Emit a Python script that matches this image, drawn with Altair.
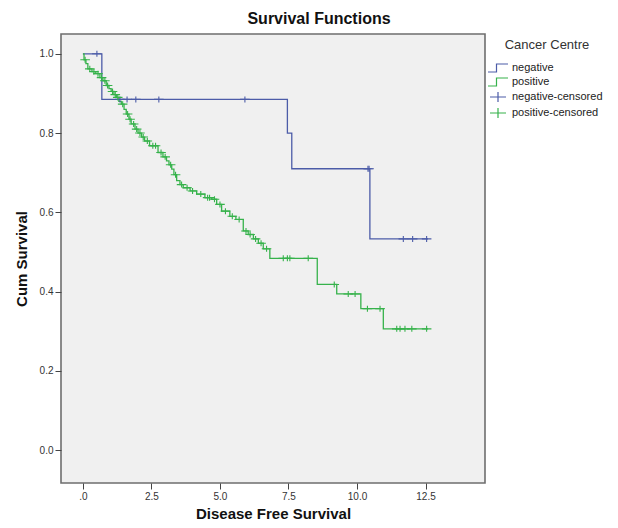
import altair as alt
import pandas as pd

# ---------------- data ----------------
series_domain = ["negative", "positive", "negative-censored", "positive-censored"]

neg_time = [0.0, 0.69, 7.46, 7.62, 10.47, 12.59]
neg_surv = [1.0, 0.885, 0.800, 0.710, 0.533, 0.533]
neg_cens_time = [0.51, 1.35, 1.61, 1.93, 2.77, 5.91, 10.40, 10.44, 11.69, 12.03, 12.54]

pos_time = [0.0, 0.04, 0.11, 0.18, 0.33, 0.47, 0.62, 0.73, 0.85, 0.95, 1.03, 1.13,
            1.22, 1.31, 1.40, 1.50, 1.58, 1.68, 1.76, 1.90, 2.01, 2.14, 2.25, 2.43,
            2.74, 2.92, 3.05, 3.14, 3.24, 3.32, 3.42, 3.54, 3.66, 3.91, 4.15, 4.45,
            4.70, 4.88, 5.06, 5.36, 5.58, 5.85, 6.03, 6.22, 6.40, 6.58, 6.82, 8.55,
            9.26, 10.14, 10.96, 12.59]
pos_surv = [1.0, 0.985, 0.975, 0.962, 0.955, 0.950, 0.940, 0.932, 0.920, 0.912, 0.905, 0.897,
            0.890, 0.880, 0.873, 0.860, 0.848, 0.835, 0.823, 0.810, 0.800, 0.790, 0.780, 0.768,
            0.751, 0.740, 0.730, 0.720, 0.709, 0.695, 0.680, 0.670, 0.662, 0.654, 0.646, 0.637,
            0.633, 0.620, 0.603, 0.590, 0.582, 0.553, 0.544, 0.533, 0.522, 0.508, 0.484, 0.418,
            0.394, 0.357, 0.306, 0.306]
pos_cens_time = [0.08, 0.25, 0.40, 0.55, 0.68, 0.80, 0.90, 1.08, 1.18, 1.27, 1.45, 1.63,
                 1.72, 1.85, 1.96, 2.08, 2.20, 2.35, 2.55, 2.65, 2.85, 3.00, 3.20, 3.38,
                 3.60, 3.80, 4.00, 4.30, 4.55, 4.62, 4.80, 5.00, 5.20, 5.45, 5.70, 5.95,
                 6.10, 6.30, 6.50, 6.70, 7.31, 7.46, 7.55, 8.22, 9.17, 9.68, 9.93, 10.38,
                 10.84, 11.45, 11.57, 11.75, 12.00, 12.54]

x_ticks = [0, 2.5, 5.0, 7.5, 10.0, 12.5]
y_ticks = [0.0, 0.2, 0.4, 0.6, 0.8, 1.0]


def step_value(times, survs, t):
    v = survs[0]
    for ti, si in zip(times, survs):
        if ti <= t:
            v = si
        else:
            break
    return v


lines_df = pd.concat([
    pd.DataFrame({"series": "negative", "t": neg_time, "s": neg_surv}),
    pd.DataFrame({"series": "positive", "t": pos_time, "s": pos_surv}),
])
cens_df = pd.concat([
    pd.DataFrame({"series": "negative-censored", "t": neg_cens_time,
                  "s": [step_value(neg_time, neg_surv, t) for t in neg_cens_time]}),
    pd.DataFrame({"series": "positive-censored", "t": pos_cens_time,
                  "s": [step_value(pos_time, pos_surv, t) for t in pos_cens_time]}),
])

BLUE = "#4c5ca8"
GREEN = "#36b24b"
colors = [BLUE, GREEN, BLUE, GREEN]
step_path = "M-2,0.8H-0.3V-0.8H2"
cross_path = "M-1.6,0H1.6M0,-1V1"
shapes = [step_path, step_path, cross_path, cross_path]

FONT = "Liberation Sans"

x_scale = alt.Scale(domain=[-0.80, 14.67], nice=False, zero=False)
y_scale = alt.Scale(domain=[-0.083, 1.050], nice=False, zero=False)

legend = alt.Legend(
    title="Cancer Centre", orient="none", legendX=431, legendY=5,
    titleFont=FONT, titleFontSize=13, titleFontWeight="normal", titleColor="#333",
    titleAnchor="middle", titlePadding=10,
    labelFont=FONT, labelFontSize=11, labelColor="#222", labelOffset=8,
    symbolSize=100, symbolStrokeWidth=1.2, rowPadding=0,
)

color = alt.Color("series:N", scale=alt.Scale(domain=series_domain, range=colors), legend=legend)
shape = alt.Shape("series:N", scale=alt.Scale(domain=series_domain, range=shapes), legend=legend)

x_enc = alt.X("t:Q", scale=x_scale, axis=alt.Axis(
    title="Disease Free Survival", values=x_ticks,
    labelExpr="datum.value == 0 ? '.0' : format(datum.value, '.1f')", titlePadding=5))
y_enc = alt.Y("s:Q", scale=y_scale, axis=alt.Axis(
    title="Cum Survival", values=y_ticks, format=".1f", titlePadding=10))

lines = alt.Chart(lines_df).mark_line(interpolate="step-after", strokeWidth=1.3).encode(
    x=x_enc, y=y_enc, color=color)

points = alt.Chart(cens_df).mark_point(filled=False, size=36, strokeWidth=1.1, opacity=1).encode(
    x=x_enc, y=y_enc, color=color, shape=shape)

chart = alt.layer(lines, points).properties(
    width=424, height=449,
    autosize=alt.AutoSizeParams(type="none"),
    padding={"left": 53, "top": 26, "right": 125, "bottom": 37},
    title=alt.Title("Survival Functions", font=FONT, fontSize=16, fontWeight="bold",
                    color="#111", anchor="middle", frame="group", offset=7, dx=46),
).configure_view(
    fill="#f0f0f0", stroke="#6e6e6e", strokeWidth=1.6
).configure_axis(
    domain=False, grid=False, ticks=True, tickColor="#444", tickSize=6,
    labelFont=FONT, labelFontSize=10, labelColor="#333", labelPadding=2,
    titleFont=FONT, titleFontSize=15, titleFontWeight="bold", titleColor="#111",
)

chart.save("out.html", embed_options={"renderer": "svg", "actions": False})
